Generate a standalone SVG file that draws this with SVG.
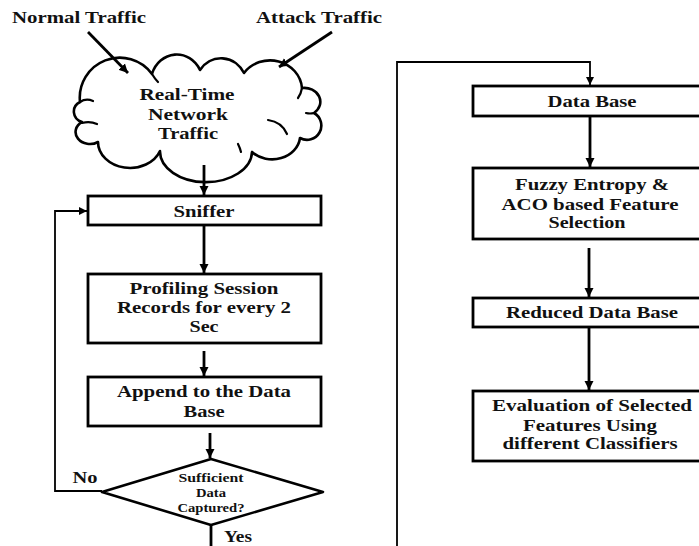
<svg xmlns="http://www.w3.org/2000/svg" width="699" height="546" viewBox="0 0 699 546">
  <style>
    .box { fill: #ffffff; stroke: #000000; stroke-width: 2.8; }
    .shape { fill: #ffffff; stroke: #000000; stroke-width: 2.6; stroke-linejoin: round; }
    .t { font-family: "Liberation Serif", "Times New Roman", serif; font-weight: bold; font-size: 16px; fill: #111111; text-anchor: middle; }
    .ts { font-family: "Liberation Serif", "Times New Roman", serif; font-weight: bold; font-size: 12px; fill: #111111; text-anchor: middle; }
    .wire { fill: none; stroke: #000000; stroke-width: 2.8; }
    .thin { fill: none; stroke: #000000; stroke-width: 1.8; }
    .detail { fill: none; stroke: #000000; stroke-width: 2.2; stroke-linecap: round; }
  </style>
  <defs>
    <marker id="head" markerUnits="userSpaceOnUse" viewBox="0 0 10 10" refX="10" refY="5" markerWidth="9" markerHeight="10" orient="auto">
      <path d="M0,0 L10,5 L0,10 z" fill="#000000"/>
    </marker>
    <marker id="headSmall" markerUnits="userSpaceOnUse" viewBox="0 0 10 10" refX="10" refY="5" markerWidth="8" markerHeight="8" orient="auto">
      <path d="M0,0 L10,5 L0,10 z" fill="#000000"/>
    </marker>
  </defs>
  <rect width="699" height="546" fill="#ffffff"/>

  <!-- input labels -->
  <g id="normal-traffic">
    <text class="t" x="79" y="23" textLength="134" lengthAdjust="spacingAndGlyphs">Normal Traffic</text>
  </g>
  <g id="attack-traffic">
    <text class="t" x="319" y="23" textLength="126" lengthAdjust="spacingAndGlyphs">Attack Traffic</text>
  </g>

  <!-- cloud -->
  <g id="network-traffic">
    <path class="shape" d="M80,102 A40,40 0 0 1 152,74 A26,28 0 0 1 200,70 A26,28 0 0 1 244,73 A32,30 0 0 1 302,88 A16,14 0 0 1 314,113 A14,14 0 0 1 300,138 A28,24 0 0 1 252,152 A45,30 0 0 1 160,151 A32,26 0 0 1 98,142 A12,10 0 0 1 82,122 A12,11 0 0 1 80,102 Z"/>
    <path class="detail" d="M80,102 Q86,98 93,101"/>
    <path class="detail" d="M82,123 Q90,121 97,124"/>
    <path class="detail" d="M152,74 Q155,79 158,82"/>
    <path class="detail" d="M302,88 Q301,94 298,98"/>
    <path class="detail" d="M314,113 Q310,114 306,113"/>
    <path class="detail" d="M268,120 Q282,122 287,134"/>
    <path class="detail" d="M238,144 Q240,148 241,152"/>
    <text class="t" x="187" y="100" textLength="95" lengthAdjust="spacingAndGlyphs">Real-Time</text>
    <text class="t" x="188" y="120" textLength="80" lengthAdjust="spacingAndGlyphs">Network</text>
    <text class="t" x="188" y="139" textLength="60" lengthAdjust="spacingAndGlyphs">Traffic</text>
  </g>

  <!-- left column -->
  <g id="sniffer">
    <rect class="box" x="88" y="196" width="233" height="29"/>
    <text class="t" x="204" y="217" textLength="61" lengthAdjust="spacingAndGlyphs">Sniffer</text>
  </g>
  <g id="profiling">
    <rect class="box" x="88" y="274" width="233" height="69"/>
    <text class="t" x="204" y="294" textLength="149" lengthAdjust="spacingAndGlyphs">Profiling Session</text>
    <text class="t" x="204" y="313" textLength="174" lengthAdjust="spacingAndGlyphs">Records for every 2</text>
    <text class="t" x="204" y="332" textLength="29" lengthAdjust="spacingAndGlyphs">Sec</text>
  </g>
  <g id="append">
    <rect class="box" x="88" y="377" width="233" height="49"/>
    <text class="t" x="204" y="397" textLength="174" lengthAdjust="spacingAndGlyphs">Append to the Data</text>
    <text class="t" x="204" y="417" textLength="41" lengthAdjust="spacingAndGlyphs">Base</text>
  </g>
  <g id="decision">
    <polygon class="shape" points="211,459 323,492 211,525 102,492"/>
    <text class="ts" x="211" y="482" textLength="65" lengthAdjust="spacingAndGlyphs">Sufficient</text>
    <text class="ts" x="211" y="497" textLength="30" lengthAdjust="spacingAndGlyphs">Data</text>
    <text class="ts" x="211" y="512" textLength="67" lengthAdjust="spacingAndGlyphs">Captured?</text>
  </g>

  <!-- right column -->
  <g id="database">
    <rect class="box" x="473" y="86" width="240" height="30"/>
    <text class="t" x="592" y="107" textLength="89" lengthAdjust="spacingAndGlyphs">Data Base</text>
  </g>
  <g id="feature-selection">
    <rect class="box" x="473" y="168" width="240" height="71"/>
    <text class="t" x="592" y="190" textLength="154" lengthAdjust="spacingAndGlyphs">Fuzzy Entropy &amp;</text>
    <text class="t" x="590" y="210" textLength="177" lengthAdjust="spacingAndGlyphs">ACO based Feature</text>
    <text class="t" x="587" y="228" textLength="77" lengthAdjust="spacingAndGlyphs">Selection</text>
  </g>
  <g id="reduced-database">
    <rect class="box" x="473" y="298" width="240" height="29"/>
    <text class="t" x="592" y="318" textLength="172" lengthAdjust="spacingAndGlyphs">Reduced Data Base</text>
  </g>
  <g id="evaluation">
    <rect class="box" x="473" y="391" width="240" height="70"/>
    <text class="t" x="592" y="411" textLength="200" lengthAdjust="spacingAndGlyphs">Evaluation of Selected</text>
    <text class="t" x="590" y="431" textLength="134" lengthAdjust="spacingAndGlyphs">Features Using</text>
    <text class="t" x="590" y="449" textLength="175" lengthAdjust="spacingAndGlyphs">different Classifiers</text>
  </g>

  <!-- connectors -->
  <g id="connectors">
    <line class="wire" x1="88" y1="32" x2="128" y2="73" marker-end="url(#head)"/>
    <line class="wire" x1="332" y1="32" x2="279" y2="67" marker-end="url(#head)"/>
    <line class="wire" x1="204" y1="165" x2="204" y2="195" marker-end="url(#head)"/>
    <line class="wire" x1="204" y1="225" x2="204" y2="273" marker-end="url(#head)"/>
    <line class="wire" x1="204" y1="351" x2="204" y2="376" marker-end="url(#head)"/>
    <line class="wire" x1="210" y1="433" x2="210" y2="458" marker-end="url(#head)"/>
    <polyline class="thin" points="102,491 55,491 55,211 87,211" marker-end="url(#headSmall)"/>
    <line class="wire" x1="211" y1="525" x2="211" y2="546"/>
    <polyline class="thin" points="397,546 397,62 590,62 590,85" marker-end="url(#headSmall)"/>
    <line class="wire" x1="590" y1="116" x2="590" y2="167" marker-end="url(#head)"/>
    <line class="wire" x1="589" y1="248" x2="589" y2="297" marker-end="url(#head)"/>
    <line class="wire" x1="589" y1="327" x2="589" y2="390" marker-end="url(#head)"/>
    <text class="t" x="85" y="483" textLength="25" lengthAdjust="spacingAndGlyphs">No</text>
    <text class="t" x="238" y="542" textLength="28" lengthAdjust="spacingAndGlyphs">Yes</text>
  </g>
</svg>
